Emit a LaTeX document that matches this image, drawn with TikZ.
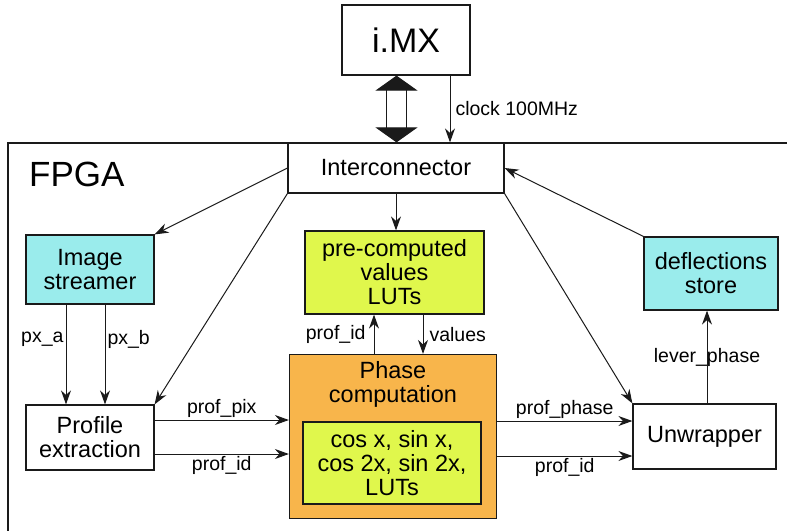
\documentclass[tikz,border=0pt]{standalone}
\usepackage{fontspec}
\setmainfont{Liberation Sans}
\usetikzlibrary{arrows.meta,positioning,calc}
\usepackage{xcolor}
\definecolor{cyanfill}{HTML}{9AECEC}
\definecolor{limefill}{HTML}{E0F74C}
\definecolor{orangefill}{HTML}{F8B54B}
\definecolor{dark}{HTML}{1A1A1A}
\tikzset{
  box/.style={draw=dark, line width=1.2pt, align=center, fill=white, inner sep=2pt, font=\fontsize{23.5}{24}\selectfont},
  cyanbox/.style={box, fill=cyanfill},
  limebox/.style={box, fill=limefill},
  orangebox/.style={box, fill=orangefill},
  arrow/.style={-{Stealth[length=14pt,width=10pt]}, line width=1pt, draw=dark},
  busarrow/.style={draw=dark, line width=1.1pt, double=white, double distance=19pt, {Triangle[length=15pt,width=42pt]}-{Triangle[length=15pt,width=42pt]}},
  lbl/.style={font=\fontsize{19.5}{21}\selectfont, inner sep=2pt}
}

\begin{document}
\begin{tikzpicture}[x=1pt, y=-1pt]
  \useasboundingbox (0,0) rectangle (787,531);
  % FPGA frame, open to the right and bottom
  \draw[draw=dark, line width=1.2pt] (787,143) -- (8,143) -- (8,531);
  \node[font=\fontsize{35}{37}\selectfont, anchor=west, inner sep=0pt] (fpga) at (29,174) {FPGA};

  \node[box, minimum width=128pt, minimum height=70pt, font=\fontsize{34}{36}\selectfont] (imx) at (406,40) {i.MX};
  \node[box, minimum width=216pt, minimum height=50pt] (ic) at (396,168) {Interconnector};
  \node[cyanbox, minimum width=128pt, minimum height=69pt] (imgstr) at (90,269.5) {Image\\streamer};
  \node[box, minimum width=128pt, minimum height=65pt] (profext) at (90,437.5) {Profile\\extraction};
  \node[limebox, minimum width=179pt, minimum height=83pt] (lut) at (394.5,272.5) {pre-computed\\values\\LUTs};
  \node[orangebox, minimum width=207pt, minimum height=164pt] (phase) at (393,436.5) {};
  \node[font=\fontsize{23.5}{24}\selectfont, align=center, below=4pt of phase.north] (phasetxt) {Phase\\computation};
  \node[limebox, minimum width=178pt, minimum height=82pt] (lutin) at (392,463) {cos x, sin x,\\cos 2x, sin 2x,\\LUTs};
  \node[cyanbox, minimum width=134pt, minimum height=73pt] (defl) at (711,273.5) {deflections\\store};
  \node[box, minimum width=143pt, minimum height=65pt] (unwr) at (704.5,436.5) {Unwrapper};

  % i.MX to FPGA
  \coordinate (bus) at (396.5,0);
  \coordinate (clk) at (450,0);
  \draw[busarrow] (imx.south -| bus) -- (ic.north -| bus);
  \draw[arrow] (imx.south -| clk) -- node[lbl, right=3pt] {clock 100MHz} (ic.north -| clk);

  % from and to the interconnector
  \draw[arrow] (ic.west) -- (imgstr.north east);
  \draw[arrow] (ic.south west) -- (profext.north east);
  \draw[arrow] (ic.south) -- (ic.south |- lut.north);
  \draw[arrow] (defl.north west) -- (ic.east);
  \draw[arrow] (ic.south east) -- (unwr.north west);

  % data path
  \draw[arrow] ([xshift=-24pt]imgstr.south) -- node[lbl, left, pos=0.35] {px\_a} ([xshift=-24pt]imgstr.south |- profext.north);
  \draw[arrow] ([xshift=15pt]imgstr.south) -- node[lbl, right, pos=0.35] {px\_b} ([xshift=15pt]imgstr.south |- profext.north);
  \draw[arrow] ([yshift=17.5pt]profext.east) -- node[lbl, above] {prof\_pix} ([yshift=17.5pt]profext.east -| phase.west);
  \draw[arrow] ([yshift=-16.5pt]profext.east) -- node[lbl, below] {prof\_id} ([yshift=-16.5pt]profext.east -| phase.west);
  \draw[arrow] ([xshift=-19pt]phase.north) -- node[lbl, left=6pt] {prof\_id} ([xshift=-19pt]phase.north |- lut.south);
  \draw[arrow] ([xshift=28.5pt]lut.south) -- node[lbl, right=4pt] {values} ([xshift=28.5pt]lut.south |- phase.north);
  \draw[arrow] ([yshift=15.5pt]phase.east) -- node[lbl, above] {prof\_phase} ([yshift=15.5pt]phase.east -| unwr.west);
  \draw[arrow] ([yshift=-19.5pt]phase.east) -- node[lbl, below] {prof\_id} ([yshift=-19.5pt]phase.east -| unwr.west);
  \draw[arrow] ([xshift=2.5pt]unwr.north) -- node[lbl, pos=0.5] {lever\_phase} ([xshift=2.5pt]unwr.north |- defl.south);
\end{tikzpicture}
\end{document}
